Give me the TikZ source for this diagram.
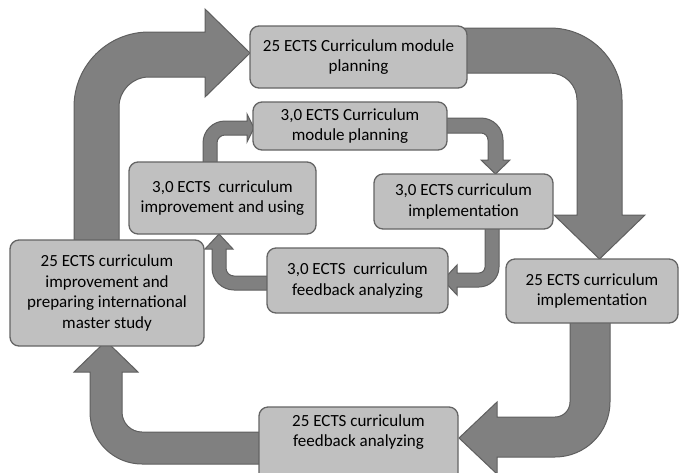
\documentclass[tikz,border=0pt]{standalone}
\usepackage{fontspec}
\setmainfont{Carlito}
\definecolor{boxfill}{RGB}{192,192,192}
\definecolor{boxline}{RGB}{100,100,100}
\definecolor{arrowfill}{RGB}{128,128,128}
\definecolor{arrowline}{RGB}{95,95,95}
\tikzset{
  box/.style={draw=boxline, fill=boxfill, line width=1.3pt, rounded corners=9pt,
    align=center, inner sep=0pt, font=\fontsize{17}{20.5}\selectfont},
  boxtext/.style={align=center, inner sep=0pt, font=\fontsize{17}{20.5}\selectfont},
  blockarrow/.style={fill=arrowfill, draw=arrowline, line width=1pt, line join=miter}
}
\begin{document}
\begin{tikzpicture}[x=1pt, y=-1pt]
\useasboundingbox (0,0) rectangle (679,472);

% ---------- big arrows ----------
% A: left box up to top box
\path[blockarrow] (74,245) -- (74,107) arc[start angle=180, end angle=90, radius=75pt]
  -- (205,32) -- (205,9) -- (250,53) -- (205,97) -- (205,77) -- (149,77)
  arc[start angle=90, end angle=180, radius=30pt] -- (119,245) -- cycle;
% B: top box down to right box
\path[blockarrow] (460,28) -- (550,28) arc[start angle=90, end angle=0, radius=72pt]
  -- (622,215) -- (645,215) -- (599.5,259) -- (554,215) -- (577,215) -- (577,100)
  arc[start angle=0, end angle=90, radius=27pt] -- (460,73) -- cycle;
% C: right box down to bottom box
\path[blockarrow] (570,318) -- (570,402) arc[start angle=0, end angle=-90, radius=15pt]
  -- (497,417) -- (497,402) -- (459,438) -- (497,474) -- (497,457) -- (555,457)
  arc[start angle=-90, end angle=0, radius=55pt] -- (610,318) -- cycle;
% D: bottom box to left box
\path[blockarrow] (265,432) -- (142,432) arc[start angle=-90, end angle=-180, radius=20pt]
  -- (122,372) -- (138,372) -- (106,341) -- (74,372) -- (90,372) -- (90,412)
  arc[start angle=180, end angle=270, radius=52pt] -- (265,464) -- cycle;

% ---------- small arrows ----------
% a: improvement -> module planning
\path[blockarrow] (203,170) -- (203,143) arc[start angle=180, end angle=90, radius=22pt]
  -- (247,121) -- (247,114) -- (254,128) -- (247,142) -- (247,135) -- (225,135)
  arc[start angle=90, end angle=180, radius=8pt] -- (217,170) -- cycle;
% b: module planning -> implementation
\path[blockarrow] (440,118) -- (481,118) arc[start angle=90, end angle=0, radius=22pt]
  -- (503,160) -- (510,160) -- (495.5,174) -- (481,160) -- (488,160) -- (488,140)
  arc[start angle=0, end angle=90, radius=7pt] -- (440,133) -- cycle;
% c: implementation -> feedback
\path[blockarrow] (485,222) -- (485,267) arc[start angle=0, end angle=-90, radius=6pt]
  -- (457,273) -- (457,265) -- (443,280) -- (457,295) -- (457,287) -- (479,287)
  arc[start angle=-90, end angle=0, radius=20pt] -- (499,222) -- cycle;
% d: feedback -> improvement
\path[blockarrow] (274,276) -- (234,276) arc[start angle=-90, end angle=-180, radius=8pt]
  -- (226,249) -- (233,249) -- (219,234) -- (205,249) -- (212,249) -- (212,268)
  arc[start angle=180, end angle=270, radius=22pt] -- (274,290) -- cycle;

% ---------- boxes ----------
\node[box, minimum width=217pt, minimum height=62pt] (b1) at (358.5,57)
  {25 ECTS Curriculum module\\planning};
\node[box, minimum width=194pt, minimum height=48pt] (b2) at (350,126)
  {3,0 ECTS Curriculum\\module planning};
\node[box, minimum width=187pt, minimum height=72pt] (b3) at (222.5,198)
  {3,0 ECTS\ \ curriculum\\improvement and using};
\node[box, minimum width=179pt, minimum height=55pt] (b4) at (463.5,201.5)
  {3,0 ECTS curriculum\\implementation};
\node[box, minimum width=181pt, minimum height=65pt] (b5) at (357.5,280.5)
  {3,0 ECTS\ \ curriculum\\feedback analyzing};
\node[box, minimum width=194pt, minimum height=106pt] (b6) at (107,293)
  {25 ECTS curriculum\\improvement and\\preparing international\\master study};
\node[box, minimum width=172pt, minimum height=64pt] (b7) at (592,291)
  {25 ECTS curriculum\\implementation};
\node[box, minimum width=199pt, minimum height=83pt] (b8) at (358.5,448.5) {};
\node[boxtext] (b8t) at (358.5,432) {25 ECTS curriculum\\feedback analyzing};
\end{tikzpicture}
\end{document}
